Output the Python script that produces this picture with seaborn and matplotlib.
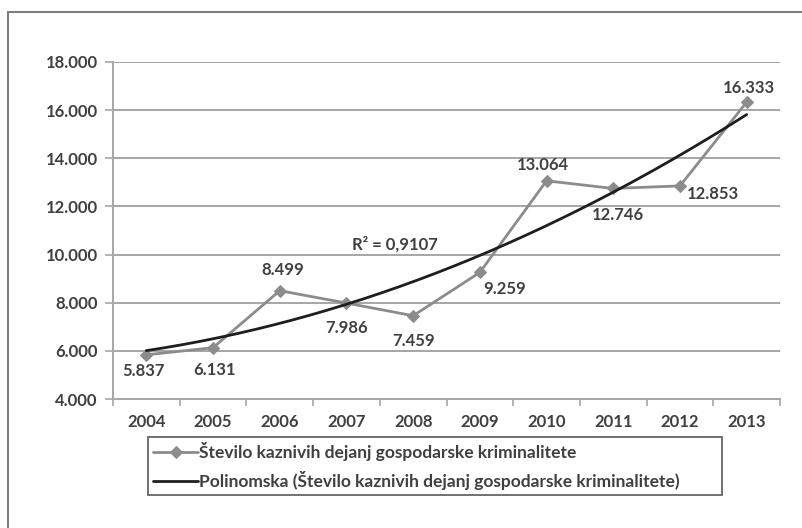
import numpy as np
import pandas as pd
import matplotlib
matplotlib.use('Agg')
import matplotlib.pyplot as plt
import seaborn as sns
from matplotlib.patches import Rectangle
from matplotlib.ticker import FuncFormatter, FixedLocator

# data
years = ['2004', '2005', '2006', '2007', '2008', '2009', '2010', '2011', '2012', '2013']
cases = [5837, 6131, 8499, 7986, 7459, 9259, 13064, 12746, 12853, 16333]
series_name = 'Število kaznivih dejanj gospodarske kriminalitete'
trend_name = 'Polinomska (Število kaznivih dejanj gospodarske kriminalitete)'
r2_text = 'R² = 0,9107'

# label offsets in pixels (dx, dy)
label_off = [(-3, -16), (1, -22), (3, 21), (0, -25), (0, -25),
             (25, -17), (-4, 16), (5, -27), (33, -8), (2, 14)]

sns.set_theme(style='white')
plt.rcParams['font.family'] = ['Lato', 'DejaVu Sans']
plt.rcParams['font.weight'] = 'bold'
txt_col = '#404040'
fs = 12

df = pd.DataFrame({'year': years, 'cases': cases})

# polynomial trend (order 2), like Excel
xi = np.arange(len(years))
coef = np.polyfit(xi, cases, 2)
xs = np.linspace(0, len(years) - 1, 200)
trend = np.polyval(coef, xs)

fig = plt.figure(figsize=(8.02, 5.28), dpi=100)
ax = fig.add_axes([113 / 802, 1 - 399 / 528, 667 / 802, 337 / 528])

ax.set_ylim(4000, 18000)
ax.set_xlim(-0.5, len(years) - 0.5)
ax.set_yticks(range(4000, 18001, 2000))
ax.yaxis.grid(True, color='#a6a6a6', lw=1.4)
ax.set_axisbelow(True)

sns.lineplot(data=df, x='year', y='cases', ax=ax, color='#8c8c8c', lw=2,
             marker='D', markersize=6, markeredgecolor='#8c8c8c', label=series_name, sort=False)
ax.plot(xs, trend, color='#1e1e1e', lw=2, label=trend_name)

for i, v in enumerate(cases):
    lbl = f'{v:,}'.replace(',', '.')
    ax.annotate(lbl, (i, v), xytext=label_off[i], textcoords='offset pixels',
                ha='center', va='center', fontsize=fs, color=txt_col, fontweight='bold')

ax.text(3.73, 10440, r2_text, ha='center', va='center', fontsize=fs, color=txt_col, fontweight='bold')

ax.yaxis.set_major_formatter(FuncFormatter(lambda v, p: f'{int(v):,}'.replace(',', '.')))
ax.set_xticks(xi)
ax.set_xticklabels(years)
ax.xaxis.set_minor_locator(FixedLocator(np.arange(-0.5, len(years), 1)))
ax.tick_params(axis='x', which='major', length=0, pad=11, labelsize=fs, labelcolor=txt_col)
ax.tick_params(axis='x', which='minor', length=5, width=1.2, color='#a6a6a6', direction='out', bottom=True)
ax.tick_params(axis='y', length=6, width=1.2, color='#a6a6a6', direction='out', left=True,
               labelsize=fs, labelcolor=txt_col, pad=5)
for lab in ax.get_xticklabels() + ax.get_yticklabels():
    lab.set_fontweight('bold')
ax.set_xlabel('')
ax.set_ylabel('')
for s in ['top', 'right']:
    ax.spines[s].set_visible(False)
for s in ['left', 'bottom']:
    ax.spines[s].set_color('#a6a6a6')
    ax.spines[s].set_linewidth(1.4)

ax.get_legend().remove()
h, l = ax.get_legend_handles_labels()
leg = fig.legend(h, l, loc='upper left',
                 bbox_to_anchor=(148 / 802, 1 - 499 / 528, 574 / 802, 62 / 528), mode='expand',
                 frameon=True, fancybox=False, fontsize=12.5, handlelength=2.6,
                 handletextpad=0.05, borderpad=0.3, labelspacing=0.55, borderaxespad=0)
leg.get_frame().set_edgecolor('#404040')
leg.get_frame().set_linewidth(1.3)
for t in leg.get_texts():
    t.set_color(txt_col)
    t.set_fontweight('bold')

# outer border (cut by the image edge on right and bottom)
fig.patches.append(Rectangle((8 / 802, -0.1), 1.2, 1 - 12 / 528 + 0.1, transform=fig.transFigure,
                             fill=False, edgecolor='#7f7f7f', lw=1.5))

fig.savefig('out.png', dpi=100)
